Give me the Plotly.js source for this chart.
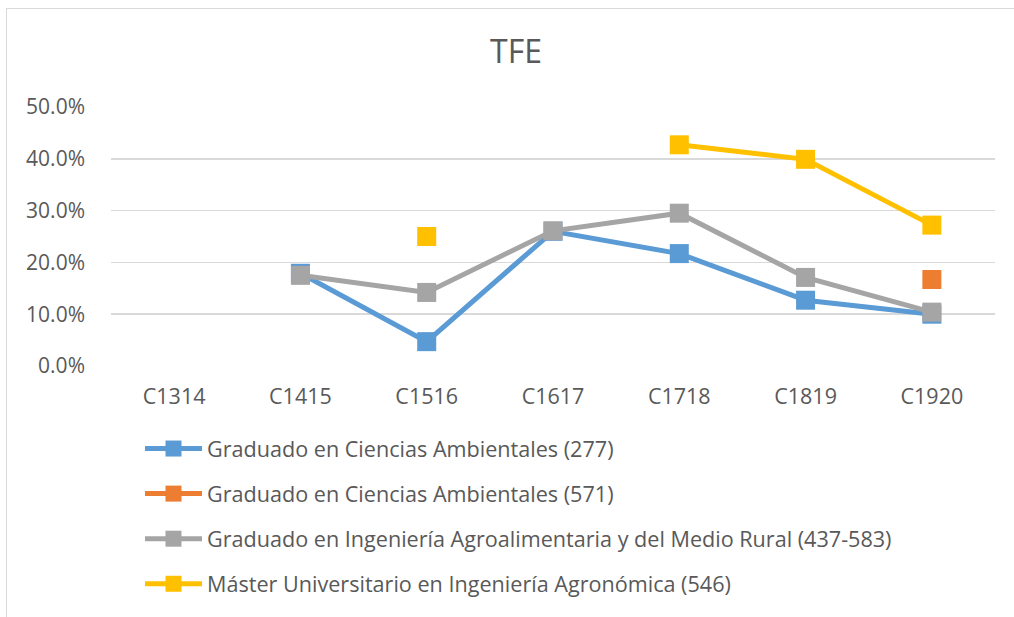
<!DOCTYPE html>
<html>
<head>
<meta charset="utf-8">
<script src="https://cdn.plot.ly/plotly-3.0.1.min.js"></script>
<style>
html,body{margin:0;padding:0;background:#fff;overflow:hidden;}
#wrap{position:relative;width:1014px;height:617px;overflow:hidden;}
#chart{position:absolute;left:0;top:0;width:1014px;height:617px;}
#frame{position:absolute;left:6px;top:8px;width:1100px;height:700px;border:1.5px solid #d9d9d9;pointer-events:none;}
</style>
</head>
<body>
<div id="wrap"><div id="chart"></div><div id="frame"></div></div>
<script>
const categories = ["C1314","C1415","C1516","C1617","C1718","C1819","C1920"];
const seriesNames = [
  "Graduado en Ciencias Ambientales (277)",
  "Graduado en Ciencias Ambientales (571)",
  "Graduado en Ingeniería Agroalimentaria y del Medio Rural (437-583)",
  "Máster Universitario en Ingeniería Agronómica (546)"
];
const ambientales277 = [null, 0.179, 0.047, 0.260, 0.217, 0.127, 0.100];
const ambientales571 = [null, null, null, null, null, null, 0.167];
const agroalimentaria = [null, 0.175, 0.142, 0.261, 0.295, 0.171, 0.104];
const masterAgronomica = [null, null, 0.250, null, 0.427, 0.399, 0.272];
const colors = ["#5B9BD5", "#ED7D31", "#A5A5A5", "#FFC000"];
const yTicks = [0, 0.1, 0.2, 0.3, 0.4, 0.5];

const allValues = [ambientales277, ambientales571, agroalimentaria, masterAgronomica];
const font = "'Open Sans', 'DejaVu Sans', sans-serif";

const traces = allValues.map((vals, i) => ({
  type: "scatter",
  mode: "lines+markers",
  x: categories,
  y: vals,
  name: seriesNames[i],
  legendgroup: "g" + i,
  connectgaps: false,
  line: {color: colors[i], width: 5},
  marker: {symbol: "square", size: 19, color: colors[i]},
  hoverinfo: "x+y+name"
}));

const layout = {
  width: 1014,
  height: 617,
  margin: {l: 111, r: 19, t: 107, b: 251, autoexpand: false},
  paper_bgcolor: "#ffffff",
  plot_bgcolor: "#ffffff",
  font: {family: font, color: "#595959", size: 21},
  title: {text: "TFE", font: {family: font, size: 32, color: "#595959"}, x: 516/1014, xanchor: "center", xref: "container", y: 1 - 52/617, yanchor: "middle", yref: "container"},
  showlegend: true,
  legend: {
    xref: "container", yref: "container",
    x: 140/1014, y: 1 - 428/617, xanchor: "left", yanchor: "top",
    orientation: "v",
    traceorder: "grouped",
    tracegroupgap: 14,
    itemwidth: 57,
    font: {family: font, size: 21.6, color: "#595959"},
    bgcolor: "rgba(0,0,0,0)"
  },
  xaxis: {
    type: "category",
    categoryorder: "array",
    categoryarray: categories,
    range: [-0.5, categories.length - 0.5],
    showgrid: false,
    zeroline: false,
    showline: false,
    ticks: "",
    tickangle: 0,
    tickfont: {family: font, size: 21.5, color: "#595959"},
    ticklabelstandoff: 15
  },
  yaxis: {
    range: [0, 0.5],
    tickvals: yTicks,
    tickformat: ".1%",
    showgrid: true,
    gridcolor: "#d9d9d9",
    gridwidth: 1.5,
    zeroline: false,
    showline: false,
    ticks: "",
    ticklabelstandoff: 25,
    tickfont: {family: font, size: 21, color: "#595959"}
  }
};

Plotly.newPlot("chart", traces, layout, {displayModeBar: false, staticPlot: true});
</script>
</body>
</html>
